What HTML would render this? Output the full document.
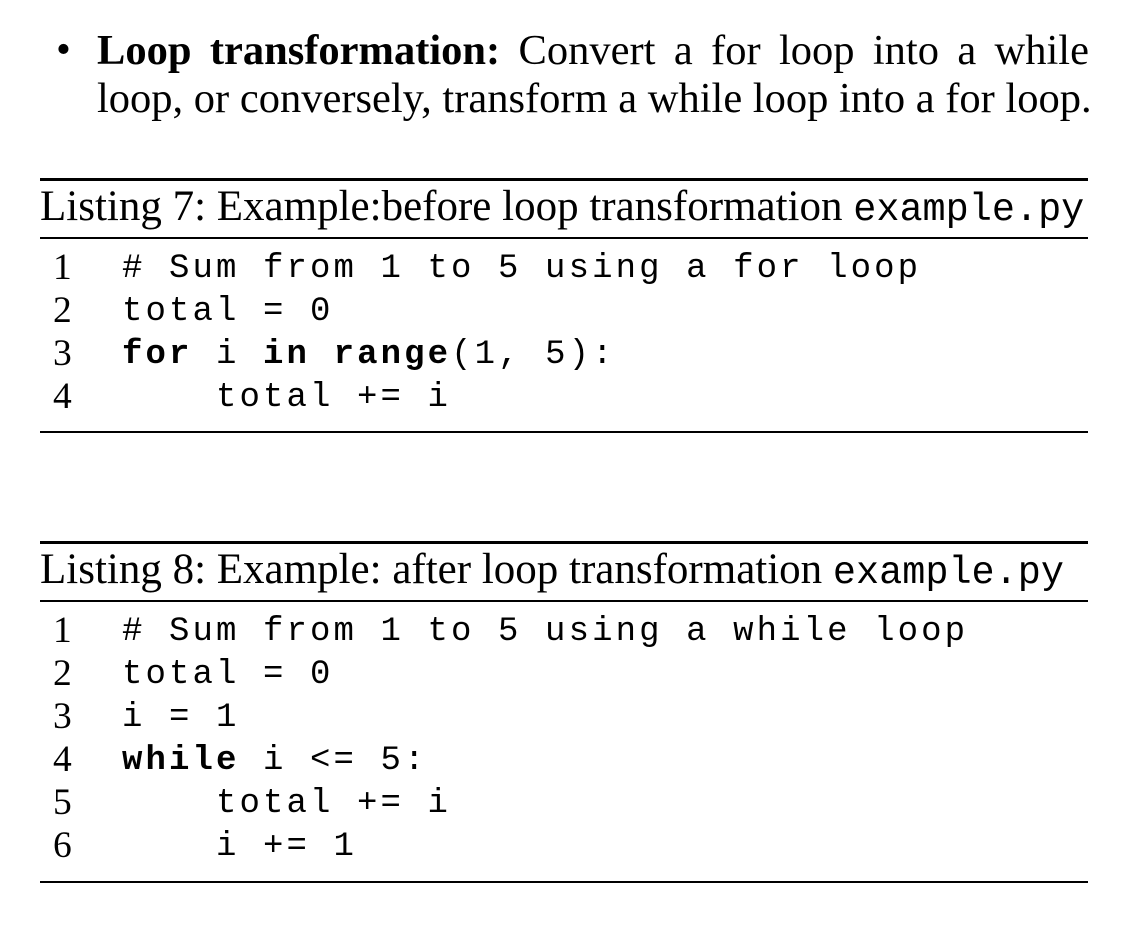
<!DOCTYPE html>
<html><head><meta charset="utf-8">
<style>
html,body{margin:0;padding:0;background:#fff;}
body{width:1144px;height:942px;position:relative;overflow:hidden;color:#000;font-family:"Liberation Serif",serif;}
.abs{position:absolute;white-space:pre;}
.bul{font-size:42.5px;line-height:42px;}
.rule{position:absolute;left:40px;width:1048px;background:#000;}
.cap{font-size:43px;left:40px;}
.cap .m{font-family:"Liberation Mono",monospace;font-size:38.5px;}
.ln{font-size:37.5px;left:53px;}
.code{font-family:"Liberation Mono",monospace;font-size:34px;letter-spacing:3.1px;left:122px;}
b{font-weight:bold;}
</style></head><body>
<div class="abs bul" style="left:56px;top:29px;">•</div>
<div class="abs bul" style="left:97px;top:30px;width:992px;text-align:justify;text-align-last:justify;"><b>Loop transformation:</b> Convert a for loop into a while</div>
<div class="abs bul" style="left:97px;top:78px;">loop, or conversely, transform a while loop into a for loop.</div>

<div class="rule" style="top:178px;height:3px;"></div>
<div class="abs cap" style="top:182px;">Listing 7: Example:before loop transformation <span class="m">example.py</span></div>
<div class="rule" style="top:237px;height:2px;"></div>
<div>
<div class="abs ln" style="top:246px;">1</div><div class="abs code" style="top:250px;"># Sum from 1 to 5 using a for loop</div>
<div class="abs ln" style="top:289px;">2</div><div class="abs code" style="top:293px;">total = 0</div>
<div class="abs ln" style="top:332px;">3</div><div class="abs code" style="top:336px;"><b>for</b> i <b>in</b> <b>range</b>(1, 5):</div>
<div class="abs ln" style="top:375px;">4</div><div class="abs code" style="top:379px;">    total += i</div>
</div>
<div class="rule" style="top:431px;height:2px;"></div>

<div class="rule" style="top:541px;height:3px;"></div>
<div class="abs cap" style="top:545px;">Listing 8: Example: after loop transformation <span class="m">example.py</span></div>
<div class="rule" style="top:600px;height:2px;"></div>
<div>
<div class="abs ln" style="top:609px;">1</div><div class="abs code" style="top:613px;"># Sum from 1 to 5 using a while loop</div>
<div class="abs ln" style="top:652px;">2</div><div class="abs code" style="top:656px;">total = 0</div>
<div class="abs ln" style="top:695px;">3</div><div class="abs code" style="top:699px;">i = 1</div>
<div class="abs ln" style="top:738px;">4</div><div class="abs code" style="top:742px;"><b>while</b> i &lt;= 5:</div>
<div class="abs ln" style="top:781px;">5</div><div class="abs code" style="top:785px;">    total += i</div>
<div class="abs ln" style="top:824px;">6</div><div class="abs code" style="top:828px;">    i += 1</div>
</div>
<div class="rule" style="top:881px;height:2px;"></div>
</body></html>
